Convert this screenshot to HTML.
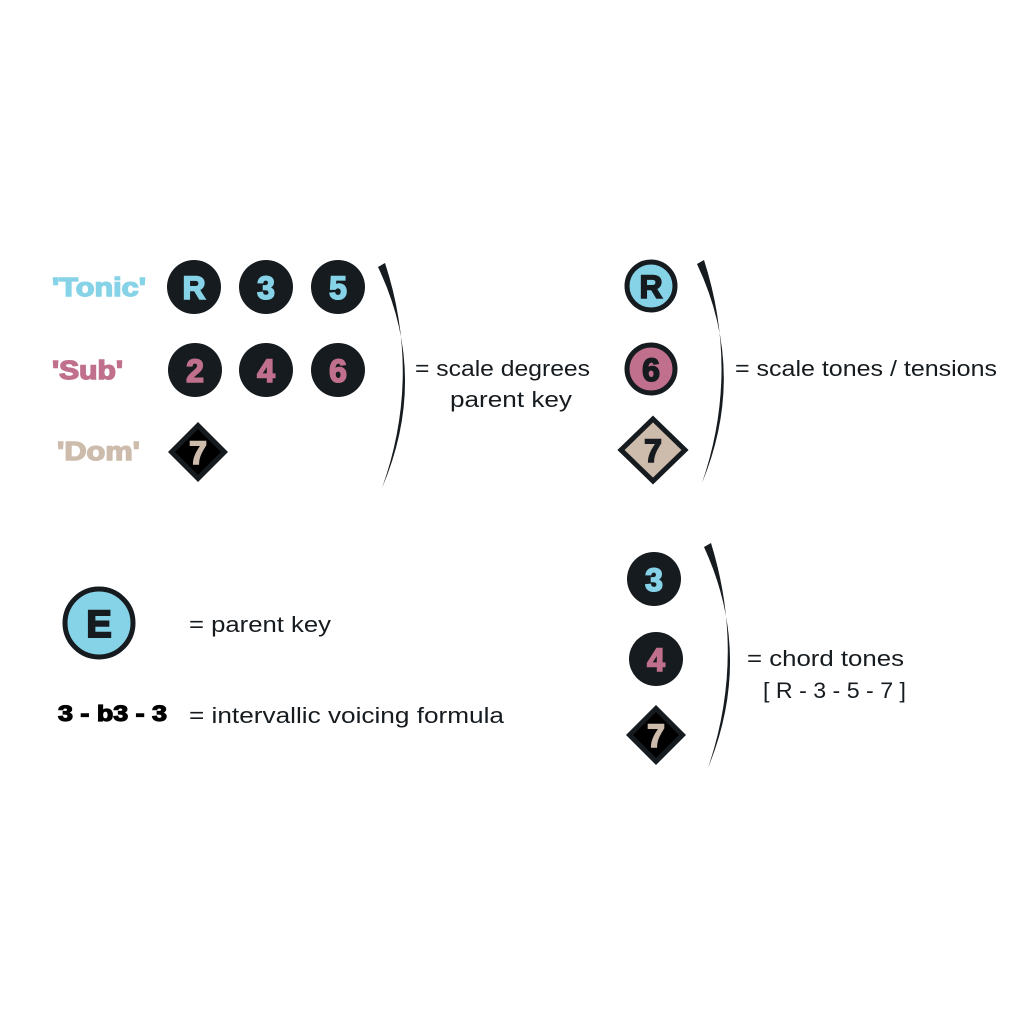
<!DOCTYPE html>
<html><head><meta charset="utf-8"><style>
html,body{margin:0;padding:0;background:#fff}
svg{display:block}
text{font-family:"Liberation Sans",sans-serif}
.t{font-size:22px;fill:#161b1f}
</style></head><body>
<svg width="1024" height="1024" viewBox="0 0 1024 1024" xmlns="http://www.w3.org/2000/svg">
<rect width="1024" height="1024" fill="#fff"/>
<text x="52" y="296" font-weight="bold" font-size="26" fill="#86d3e8" stroke="#86d3e8" stroke-width="1.4" textLength="94" lengthAdjust="spacingAndGlyphs">'Tonic'</text>
<text x="52" y="379" font-weight="bold" font-size="26" fill="#c0708c" stroke="#c0708c" stroke-width="1.4" textLength="71" lengthAdjust="spacingAndGlyphs">'Sub'</text>
<text x="57" y="460" font-weight="bold" font-size="26" fill="#cdbcab" stroke="#cdbcab" stroke-width="1.4" textLength="83" lengthAdjust="spacingAndGlyphs">'Dom'</text>
<g font-size="32" font-weight="bold" text-anchor="middle" stroke-width="1.6">
<circle cx="194" cy="287" r="27" fill="#161b1f"/><text x="194" y="299" fill="#86d3e8" stroke="#86d3e8">R</text>
<circle cx="266" cy="287" r="27" fill="#161b1f"/><text x="266" y="299" fill="#86d3e8" stroke="#86d3e8">3</text>
<circle cx="338" cy="287" r="27" fill="#161b1f"/><text x="338" y="299" fill="#86d3e8" stroke="#86d3e8">5</text>
<circle cx="195" cy="370" r="27" fill="#161b1f"/><text x="195" y="382" fill="#c0708c" stroke="#c0708c">2</text>
<circle cx="266" cy="370" r="27" fill="#161b1f"/><text x="266" y="382" fill="#c0708c" stroke="#c0708c">4</text>
<circle cx="338" cy="370" r="27" fill="#161b1f"/><text x="338" y="382" fill="#c0708c" stroke="#c0708c">6</text>
<polygon points="198,422 228,452 198,482 168,452" fill="#161b1f"/>
<polygon points="198,429 221,452 198,475 175,452" fill="#000"/>
<text x="198" y="464" fill="#cdbcab" stroke="#cdbcab">7</text>
<circle cx="651" cy="286" r="24" fill="#86d3e8" stroke="#161b1f" stroke-width="5"/><text x="651" y="298" fill="#161b1f" stroke="#161b1f">R</text>
<circle cx="651" cy="369" r="24" fill="#c0708c" stroke="#161b1f" stroke-width="5"/><text x="651" y="381" fill="#161b1f" stroke="#161b1f">6</text>
<polygon points="653,419 685,450 653,481 621,450" fill="#cdbcab" stroke="#161b1f" stroke-width="5"/>
<text x="653" y="462" fill="#161b1f" stroke="#161b1f">7</text>
<circle cx="654" cy="579" r="27" fill="#161b1f"/><text x="654" y="591" fill="#86d3e8" stroke="#86d3e8">3</text>
<circle cx="656" cy="659" r="27" fill="#161b1f"/><text x="656" y="671" fill="#c0708c" stroke="#c0708c">4</text>
<polygon points="656,705 686,735 656,765 626,735" fill="#161b1f"/>
<polygon points="656,712 679,735 656,758 633,735" fill="#000"/>
<text x="656" y="747" fill="#cdbcab" stroke="#cdbcab">7</text>
<circle cx="99" cy="623" r="34" fill="#86d3e8" stroke="#161b1f" stroke-width="5"/>
<text x="99" y="637" font-size="38" fill="#161b1f" stroke="#161b1f" stroke-width="2">E</text>
</g>
<path d="M378,267 Q430,376 382,488 Q422,376 385,263 Z" fill="#161b1f"/>
<path d="M697,264 Q748,372 702,483 Q740,372 704,260 Z" fill="#161b1f"/>
<path d="M704,547 Q754,656 708,768 Q746,656 711,543 Z" fill="#161b1f"/>
<text x="415" y="376" class="t" textLength="175" lengthAdjust="spacingAndGlyphs">= scale degrees</text>
<text x="450" y="407" class="t" textLength="122" lengthAdjust="spacingAndGlyphs">parent key</text>
<text x="735" y="376" class="t" textLength="262" lengthAdjust="spacingAndGlyphs">= scale tones / tensions</text>
<text x="747" y="666" class="t" textLength="157" lengthAdjust="spacingAndGlyphs">= chord tones</text>
<text x="763" y="698" class="t" textLength="143" lengthAdjust="spacingAndGlyphs">[ R - 3 - 5 - 7 ]</text>
<text x="189" y="632" class="t" textLength="142" lengthAdjust="spacingAndGlyphs">= parent key</text>
<text x="58" y="721" font-weight="bold" font-size="22" fill="#000" stroke="#000" stroke-width="1.2" textLength="109" lengthAdjust="spacingAndGlyphs">3 - b3  - 3</text>
<text x="189" y="723" class="t" textLength="315" lengthAdjust="spacingAndGlyphs">= intervallic voicing formula</text>
</svg>
</body></html>
